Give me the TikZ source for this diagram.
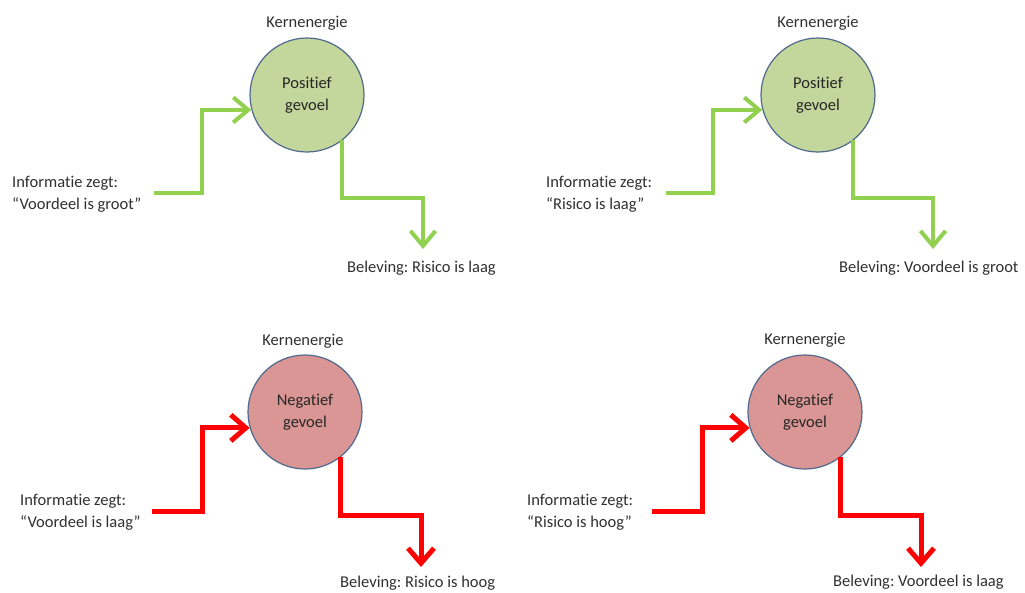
\documentclass[tikz,border=0pt]{standalone}
\usepackage{fontspec}
\setmainfont[RawFeature=-liga]{Carlito}
\usetikzlibrary{arrows.meta,calc}
\frenchspacing
\definecolor{posarrow}{HTML}{92D050}
\definecolor{posfill}{HTML}{C3D69B}
\definecolor{negarrow}{HTML}{FF0000}
\definecolor{negfill}{HTML}{D99694}
\definecolor{ringcol}{HTML}{50698C}
\definecolor{txtcol}{HTML}{303030}
\tikzset{
  lbl/.style={font=\fontsize{16.5}{21.5}\selectfont, text=txtcol, inner sep=0pt},
  infobox/.style={lbl, align=left, anchor=west},
  feel/.style={circle, draw=ringcol, line width=1.2pt, minimum size=114pt, inner sep=0pt,
     align=center, font=\fontsize{16.5}{21.5}\selectfont, text=black!85},
  posfeel/.style={feel, fill=posfill},
  negfeel/.style={feel, fill=negfill},
  posflow/.style={draw=posarrow, line width=4pt, -{Straight Barb[length=15pt,width=25pt,line width=4pt]}},
  negflow/.style={draw=negarrow, line width=5pt, -{Straight Barb[length=15pt,width=26pt,line width=5pt]}}
}
\begin{document}
\begin{tikzpicture}[x=1pt,y=-1pt]
\useasboundingbox (0,0) rectangle (1025,592);
\fill[white] (0,0) rectangle (1025,592);

% ---------- top left ----------
\node[posfeel] (c1) at (307,95) {Positief\\gevoel};
\node[lbl] (k1) at (307,23) {Kernenergie};
\node[infobox] (i1) at (12,194) {Informatie zegt:\\“Voordeel is groot”};
\node[lbl, anchor=west] (b1) at (347,268) {Beleving: Risico is laag};
\coordinate (s1) at (154,193);
\coordinate (m1) at (202,150);
\coordinate (t1) at (423,198);
\coordinate (e1) at (423,249);
\draw[posflow] (s1) -| (m1) |- (c1.195);
\draw[posflow] (c1.308) |- (t1) -- (e1);

% ---------- top right ----------
\node[posfeel] (c2) at (818,95) {Positief\\gevoel};
\node[lbl] (k2) at (818,23) {Kernenergie};
\node[infobox] (i2) at (546,194) {Informatie zegt:\\“Risico is laag”};
\node[lbl, anchor=west] (b2) at (839,268) {Beleving: Voordeel is groot};
\coordinate (s2) at (666,193);
\coordinate (m2) at (713,150);
\coordinate (t2) at (933,198);
\coordinate (e2) at (933,249);
\draw[posflow] (s2) -| (m2) |- (c2.195);
\draw[posflow] (c2.308) |- (t2) -- (e2);

% ---------- bottom left ----------
\node[negfeel] (c3) at (305,412) {Negatief\\gevoel};
\node[lbl] (k3) at (303,341) {Kernenergie};
\node[infobox] (i3) at (20,512) {Informatie zegt:\\“Voordeel is laag”};
\node[lbl, anchor=west] (b3) at (340,583) {Beleving: Risico is hoog};
\coordinate (s3) at (152,511);
\coordinate (m3) at (202,470);
\coordinate (t3) at (421,515);
\coordinate (e3) at (421,567);
\draw[negflow] (s3) -| (m3) |- (c3.196);
\draw[negflow] (c3.308) |- (t3) -- (e3);

% ---------- bottom right ----------
\node[negfeel] (c4) at (805,412) {Negatief\\gevoel};
\node[lbl] (k4) at (805,340) {Kernenergie};
\node[infobox] (i4) at (527,512) {Informatie zegt:\\“Risico is hoog”};
\node[lbl, anchor=west] (b4) at (833,582) {Beleving: Voordeel is laag};
\coordinate (s4) at (652,511);
\coordinate (m4) at (702,470);
\coordinate (t4) at (921,515);
\coordinate (e4) at (921,567);
\draw[negflow] (s4) -| (m4) |- (c4.196);
\draw[negflow] (c4.308) |- (t4) -- (e4);
\end{tikzpicture}
\end{document}
